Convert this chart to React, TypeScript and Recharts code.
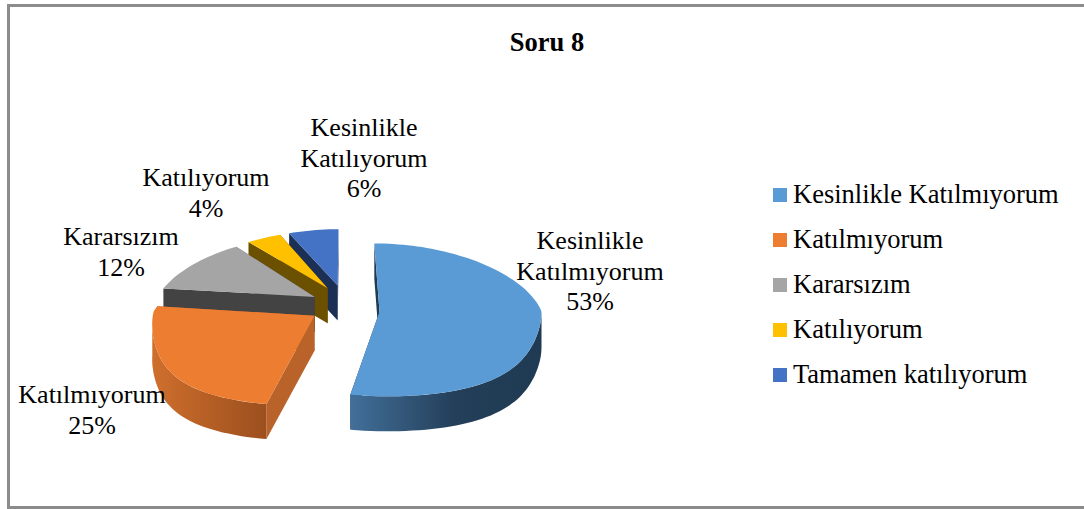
import React from "react";
import { PieChart, Pie, Cell, Legend } from "recharts";

// legend order, first slice starts at 12 o'clock and runs clockwise
const categories = [
  "Kesinlikle Katılmıyorum",
  "Katılmıyorum",
  "Kararsızım",
  "Katılıyorum",
  "Tamamen katılıyorum",
];
const labelLines = [
  ["Kesinlikle", "Katılmıyorum"],
  ["Katılmıyorum"],
  ["Kararsızım"],
  ["Katılıyorum"],
  ["Kesinlikle", "Katılıyorum"],
];
const values = [53, 25, 12, 4, 6];
const colors = ["#5B9BD5", "#ED7D31", "#A5A5A5", "#FFC000", "#4472C4"];
const edgeColors = ["#1F3A52", "#B9632A", "#434343", "#6B5000", "#1C2F55"];
const wallStops = [
  ["#426F99", "#233F59", "#1F3A52"],
  ["#CF6F2D", "#B25D24", "#9C4F1E"],
  ["#434343", "#434343", "#434343"],
  ["#6B5000", "#6B5000", "#6B5000"],
  ["#1C2F55", "#1C2F55", "#1C2F55"],
];

// painted back to front, so the table is reversed and the pie runs counter-clockwise
const rows = categories
  .map((name, i) => ({ name, value: values[i], idx: i, lines: labelLines[i] }))
  .reverse();

// where the data labels sit: centre x, first baseline
const labelSpots = [
  { x: 590, y: 249 },
  { x: 92, y: 403 },
  { x: 121, y: 245 },
  { x: 206, y: 186 },
  { x: 364, y: 136 },
];

const FONT = "'Liberation Serif', 'Times New Roman', serif";
const EXPLODE = 0.22;
const DEPTH = 35;
const rad = (d: number) => (d * Math.PI) / 180;

// tilted, slightly perspective view of the unit circle plane
const project = (cx: number, cy: number, r: number, u: number, v: number) => {
  const s = v < 0 ? 1 + 0.15 * v : 1 + 0.23 * Math.pow(v, 2.5);
  return [cx + r * u * s, cy + r * (0.47 * v + 0.045 * v * v)];
};

const toPath = (pts: number[][]) =>
  "M" + pts.map((p) => p[0].toFixed(1) + "," + p[1].toFixed(1)).join("L") + "Z";

const Slice3D = (props: any) => {
  const { cx, cy, outerRadius: r, startAngle, endAngle, payload } = props;
  const idx = payload.idx;
  const a = 450 - endAngle;
  const b = 450 - startAngle;
  const mid = rad((a + b) / 2);
  const ox = EXPLODE * Math.sin(mid);
  const oy = -EXPLODE * Math.cos(mid);
  const rim = (t: number) =>
    project(cx, cy, r, ox + Math.sin(rad(t)), oy - Math.cos(rad(t)));
  // back slices look foreshortened, so their tip sits further up
  const apex = project(cx, cy, r, ox, oy * (oy < 0 ? 1.6 : 0.5));
  const down = (p: number[]) => [p[0], p[1] + DEPTH];

  const arc = (from: number, to: number) => {
    const out: number[][] = [];
    const n = Math.max(2, Math.ceil((to - from) / 2));
    for (let i = 0; i <= n; i++) out.push(rim(from + ((to - from) * i) / n));
    return out;
  };

  const top = [apex, ...arc(a, b)];
  const wallFrom = Math.max(a, 90);
  const wallTo = Math.min(b, 270);
  const wall = wallFrom < wallTo ? arc(wallFrom, wallTo) : null;
  const gid = "wall" + idx;
  const stops = wallStops[idx];

  return (
    <g>
      <defs>
        <linearGradient id={gid} x1="0" y1="0" x2="1" y2="0">
          <stop offset="0%" stopColor={stops[0]} />
          <stop offset="55%" stopColor={stops[1]} />
          <stop offset="100%" stopColor={stops[2]} />
        </linearGradient>
      </defs>
      <path
        d={toPath([apex, rim(a), down(rim(a)), down(apex)])}
        fill={edgeColors[idx]}
      />
      <path
        d={toPath([apex, rim(b), down(rim(b)), down(apex)])}
        fill={edgeColors[idx]}
      />
      {wall && (
        <path
          d={toPath([...wall, ...[...wall].reverse().map(down)])}
          fill={"url(#" + gid + ")"}
        />
      )}
      <path d={toPath(top)} fill={colors[idx]} />
    </g>
  );
};

const renderLabel = (props: any) => {
  const row = rows[props.index];
  const spot = labelSpots[row.idx];
  const lines = [...row.lines, row.value + "%"];
  return (
    <text
      key={row.name}
      textAnchor="middle"
      fontFamily={FONT}
      fontSize={26}
      fill="#000"
    >
      {lines.map((t, i) => (
        <tspan key={i} x={spot.x} y={spot.y + i * 30.5}>
          {t}
        </tspan>
      ))}
    </text>
  );
};

const LegendList = () => (
  <div style={{ fontFamily: FONT, fontSize: 26.5, color: "#000" }}>
    {categories.map((name, i) => (
      <div
        key={name}
        style={{ display: "flex", alignItems: "center", height: 45, whiteSpace: "nowrap" }}
      >
        <span
          style={{ width: 14, height: 14, background: colors[i], marginRight: 6 }}
        />
        {name}
      </div>
    ))}
  </div>
);

export default function App() {
  return (
    <div style={{ position: "absolute", left: 0, top: 0, width: 1084, height: 509 }}>
      <div
        style={{
          position: "absolute",
          left: 7,
          top: 4,
          width: 1077,
          height: 505,
          boxSizing: "border-box",
          borderLeft: "3px solid #8C8C8C",
          borderTop: "3px solid #8C8C8C",
          borderBottom: "3px solid #8C8C8C",
        }}
      />
      <PieChart
        width={1084}
        height={509}
        margin={{ top: 0, right: 0, bottom: 0, left: 0 }}
        style={{ position: "absolute", left: 0, top: 0 }}
      >
        <text
          x={547}
          y={51}
          textAnchor="middle"
          fontFamily={FONT}
          fontSize={26.5}
          fontWeight="bold"
          fill="#000"
        >
          Soru 8
        </text>
        <Pie
          data={rows}
          dataKey="value"
          nameKey="name"
          cx={344}
          cy={311}
          outerRadius={162}
          startAngle={90}
          endAngle={450}
          stroke="none"
          shape={Slice3D}
          label={renderLabel}
          labelLine={false}
          isAnimationActive={false}
        >
          {rows.map((row) => (
            <Cell key={row.name} fill={colors[row.idx]} />
          ))}
        </Pie>
        <Legend
          content={LegendList}
          wrapperStyle={{ position: "absolute", left: 773, top: 172, width: 300 }}
        />
      </PieChart>
    </div>
  );
}
